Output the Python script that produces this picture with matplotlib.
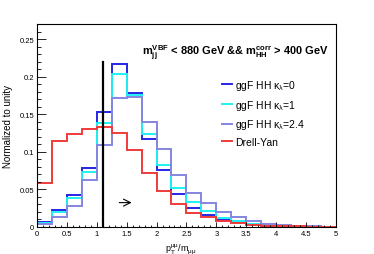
import numpy as np
import matplotlib
matplotlib.use("Agg")
import matplotlib.pyplot as plt
from matplotlib.lines import Line2D
from matplotlib.ticker import MultipleLocator, FixedFormatter, FixedLocator

plt.rcParams['font.family'] = ['Liberation Sans', 'DejaVu Sans']
plt.rcParams['mathtext.fontset'] = 'custom'
plt.rcParams['mathtext.rm'] = 'Liberation Sans'
plt.rcParams['mathtext.it'] = 'Liberation Sans'
plt.rcParams['mathtext.bf'] = 'Liberation Sans:bold'

# bin edges of p_T / m ratio
edges = np.linspace(0, 5, 21)

# normalized histograms
kl0 = [0.0062, 0.022, 0.0419, 0.0786, 0.153, 0.217, 0.178, 0.1165, 0.0759, 0.0437,
       0.0252, 0.0153, 0.0095, 0.0063, 0.0036, 0.0018, 0.001, 0.0006, 0.0003, 0.0002]
kl1 = [0.0049, 0.0199, 0.0388, 0.0733, 0.1386, 0.204, 0.1756, 0.1236, 0.083, 0.0523,
       0.0329, 0.0207, 0.012, 0.0077, 0.0045, 0.0025, 0.0015, 0.0008, 0.0005, 0.0003]
kl24 = [0.0035, 0.0137, 0.0274, 0.0631, 0.1094, 0.171, 0.173, 0.139, 0.104, 0.069,
        0.0455, 0.032, 0.0194, 0.013, 0.0077, 0.0045, 0.0027, 0.0018, 0.001, 0.0005]
dy = [0.0587, 0.115, 0.1236, 0.1297, 0.1324, 0.1244, 0.1028, 0.0724, 0.0477, 0.031,
      0.0185, 0.013, 0.0081, 0.0059, 0.0027, 0.0014, 0.001, 0.0008, 0.0005, 0.0003]

labels = [r"ggF HH $\kappa_{\lambda}$=0", r"ggF HH $\kappa_{\lambda}$=1",
          r"ggF HH $\kappa_{\lambda}$=2.4", "Drell-Yan"]
colors = ["#2626e6", "#20f0f0", "#8585e0", "#f03a3a"]

xticks = ["0", "0.5", "1", "1.5", "2", "2.5", "3", "3.5", "4", "4.5", "5"]
yticks = ["0", "0.05", "0.1", "0.15", "0.2", "0.25"]

cut = 1.1
cut_top = 0.22

fig = plt.figure(figsize=(3.74, 2.55), dpi=100)
ax = fig.add_axes([0.099, 0.106, 0.799, 0.796])

handles = []
for vals, c, lab in zip([kl0, kl1, kl24, dy], colors, labels):
    ax.stairs(vals, edges, color=c, lw=1.4)
    handles.append(Line2D([], [], color=c, lw=1.4, label=lab))

ax.plot([cut, cut], [0, cut_top], color="black", lw=1.6)
ax.annotate("", xy=(1.63, 0.0324), xytext=(1.33, 0.0324),
            arrowprops=dict(arrowstyle="->,head_length=0.5,head_width=0.25",
                            lw=0.8, color="black"))

ax.set_xlim(0, 5)
ax.set_ylim(0, 0.27)

ax.xaxis.set_major_locator(FixedLocator(np.linspace(0, 5, 11)))
ax.xaxis.set_major_formatter(FixedFormatter(xticks))
ax.xaxis.set_minor_locator(MultipleLocator(0.1))
ax.yaxis.set_major_locator(FixedLocator(np.linspace(0, 0.25, 6)))
ax.yaxis.set_major_formatter(FixedFormatter(yticks))
ax.yaxis.set_minor_locator(MultipleLocator(0.01))

ax.tick_params(axis="both", which="both", direction="in", labelsize=5.5, top=False, right=False)
ax.tick_params(axis="y", which="major", length=6.5, width=0.6, pad=2)
ax.tick_params(axis="y", which="minor", length=3.2, width=0.6)
ax.tick_params(axis="x", which="major", length=3.6, width=0.6, pad=2)
ax.tick_params(axis="x", which="minor", length=1.8, width=0.6)
for s in ax.spines.values():
    s.set_linewidth(0.8)

ax.set_ylabel("Normalized to unity", fontsize=7, labelpad=5)
ax.set_xlabel(r"p$_{\rm T}^{\mu\mu}$/m$_{\mu\mu}$", fontsize=6.5, labelpad=0)
ax.xaxis.set_label_coords(0.48, -0.07)

ax.text(0.975, 0.845, r"$\mathbf{m}_{\mathbf{jj}}^{\mathbf{VBF}}$ < 880 GeV && "
        r"$\mathbf{m}_{\mathbf{HH}}^{\mathbf{corr}}$ > 400 GeV",
        transform=ax.transAxes, ha="right", va="baseline", fontsize=7.9, fontweight="bold")

ax.legend(handles=handles, loc="upper left", bbox_to_anchor=(0.6, 0.76), frameon=False,
          fontsize=7.5, handlelength=1.0, handletextpad=0.3, labelspacing=0.55, borderpad=0)

fig.savefig("out.png", dpi=100)
